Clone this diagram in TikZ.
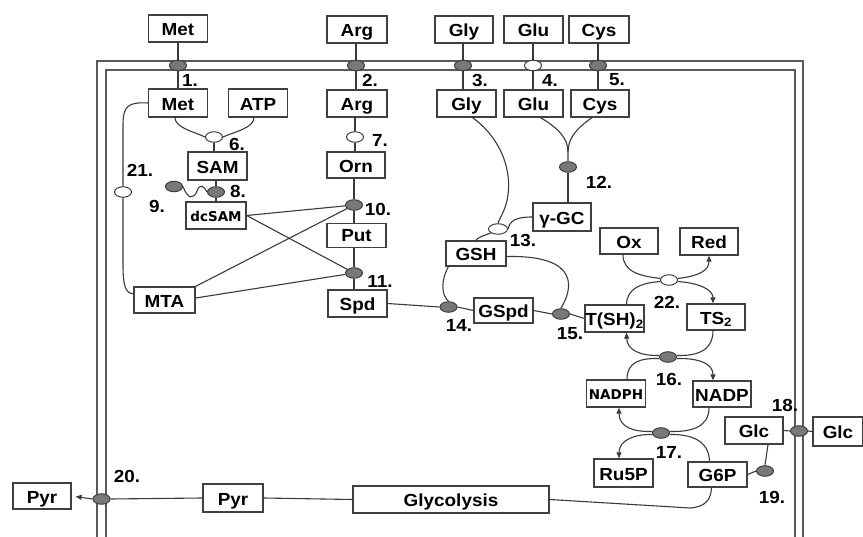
\documentclass[tikz,border=0pt]{standalone}
\usepackage{fontspec}
\setmainfont{Liberation Sans}[FakeStretch=1.08]
\newfontfamily\dvs{DejaVu Sans}
\usetikzlibrary{shapes.geometric,arrows.meta,calc}
\definecolor{ln}{HTML}{3A3A3A}
\definecolor{bx}{HTML}{404040}
\definecolor{mem}{HTML}{5A5A5A}
\definecolor{enzf}{HTML}{787878}
\begin{document}
\begin{tikzpicture}[x=1pt,y=-1pt,
 box/.style={draw=bx,line width=1.3pt,fill=white,inner sep=0pt,minimum height=27pt,minimum width=59pt,font=\bfseries\fontsize{17.5}{17.5}\selectfont,text height=16.5pt,text depth=2pt},
 sbox/.style={box,font=\dvs\bfseries\fontsize{13.5}{13.5}\selectfont,text height=14pt,text depth=1pt},
 enz/.style={ellipse,draw=bx,line width=1pt,fill=enzf,minimum width=17pt,minimum height=10.5pt,inner sep=0pt},
 oenz/.style={enz,fill=white},
 lab/.style={inner sep=0pt,font=\bfseries\fontsize{17.5}{17.5}\selectfont},
 con/.style={draw=ln,line width=1.1pt},
 arr/.style={con,-{Triangle[length=6pt,width=5pt]}},
 membrane/.style={draw=mem,line width=1.6pt}]
\useasboundingbox (0,0) rectangle (863,537);
% membrane
\draw[membrane] (97,545) -- (97,61) -- (803,61) -- (803,545);
\draw[membrane] (106,545) -- (106,70) -- (795,70) -- (795,545);
% outer boxes
\node[box] (metO) at (178,28.5) {Met};
\node[box,minimum width=60pt] (argO) at (357,29.5) {Arg};
\node[box,minimum width=58pt] (glyO) at (464,29.5) {Gly};
\node[box] (gluO) at (533.5,29.5) {Glu};
\node[box,minimum width=60pt] (cysO) at (599,29.5) {Cys};
% transporters
\node[enz] (t1) at (178,65.5) {};
\node[enz] (t2) at (356,65.5) {};
\node[enz] (t3) at (463,65.5) {};
\node[oenz] (t4) at (533,65.5) {};
\node[enz] (t5) at (598,65.5) {};
% inner
\node[box,minimum height=28pt] (met) at (178,103) {Met};
\node[box,minimum height=28pt] (atp) at (258,103) {ATP};
\node[box,minimum width=60pt] (arg) at (357,103.5) {Arg};
\node[box] (gly) at (466.5,103.5) {Gly};
\node[box] (glu) at (533.5,103.5) {Glu};
\node[box,minimum width=58pt] (cys) at (600,103.5) {Cys};
\node[oenz] (e6) at (214,137) {};
\node[box,minimum height=28pt] (sam) at (217.5,166) {SAM};
\node[oenz] (e7) at (355,137) {};
\node[box,minimum width=58pt,minimum height=26pt] (orn) at (356,165) {Orn};
\node[oenz] (e21) at (123,192) {};
\node[enz] (e9) at (174,186.5) {};
\node[enz] (e8) at (216,192) {};
\node[sbox,minimum width=60pt] (dcsam) at (216,215.5) {dcSAM};
\node[enz] (e10) at (354,205) {};
\node[box,minimum height=24pt,text height=15pt] (put) at (356.5,235.5) {Put};
\node[enz] (e11) at (354,273) {};
\node[box] (spd) at (357.5,303.5) {Spd};
\node[box,minimum width=61pt,minimum height=26pt] (mta) at (164.5,300) {MTA};
\node[enz] (e12) at (568,167) {};
\node[box,minimum width=58pt,minimum height=28pt] (gc) at (562,217) {γ-GC};
\node[oenz,minimum width=19pt] (e13) at (498,229) {};
\node[box,minimum width=60pt,minimum height=25pt] (gsh) at (476,253.5) {GSH};
\node[enz] (e14) at (448.5,307) {};
\node[box,minimum height=25pt] (gspd) at (503.5,310.5) {GSpd};
\node[enz] (e15) at (561,314) {};
\node[box] (tsh) at (614.5,318.5) {T(SH)\textsubscript{2}};
\node[box,minimum width=58pt,minimum height=26pt] (ox) at (629,241) {Ox};
\node[box,minimum width=58pt] (red) at (709,241.5) {Red};
\node[oenz] (e22) at (669,280) {};
\node[box,minimum width=58pt,minimum height=26pt] (ts2) at (716,317) {TS\textsubscript{2}};
\node[enz] (e16) at (668,357) {};
\node[sbox] (nadph) at (616,393.5) {NADPH};
\node[box,minimum width=58pt,minimum height=26pt] (nadp) at (722,394) {NADP};
\node[enz] (e17) at (661,433) {};
\node[box,minimum height=28pt] (ru5p) at (623.5,473) {Ru5P};
\node[box,minimum height=25pt] (g6p) at (717.5,474.5) {G6P};
\node[box,minimum width=58pt] (glci) at (754,430.5) {Glc};
\node[enz] (t18) at (799,431) {};
\node[box,minimum width=50pt,minimum height=29pt] (glco) at (838,431.5) {Glc};
\node[enz] (e19) at (765,471) {};
\node[box,minimum width=196pt] (glyc) at (451,499.5) {Glycolysis};
\node[box,minimum width=60pt,minimum height=28pt] (pyri) at (233,498) {Pyr};
\node[enz] (t20) at (101.5,499) {};
\node[box,minimum width=58pt,minimum height=26pt] (pyro) at (42,496) {Pyr};
% labels
\node[lab] (l1) at (190,80) {1.};
\node[lab] (l2) at (370,80) {2.};
\node[lab] (l3) at (480,80) {3.};
\node[lab] (l4) at (550,80) {4.};
\node[lab] (l5) at (617,80) {5.};
\node[lab] (l6) at (237,144) {6.};
\node[lab] (l7) at (380,140) {7.};
\node[lab] (l8) at (238,191) {8.};
\node[lab] (l9) at (157,206) {9.};
\node[lab] (l10) at (378,209) {10.};
\node[lab] (l11) at (380,281) {11.};
\node[lab] (l12) at (599,182) {12.};
\node[lab] (l13) at (523,240) {13.};
\node[lab] (l14) at (459,325) {14.};
\node[lab] (l15) at (570,334) {15.};
\node[lab] (l16) at (669,379) {16.};
\node[lab] (l17) at (669,452) {17.};
\node[lab] (l18) at (785,405) {18.};
\node[lab] (l19) at (772,497) {19.};
\node[lab] (l20) at (127,476) {20.};
\node[lab] (l21) at (140,170) {21.};
\node[lab] (l22) at (667,302) {22.};
% transport connectors
\foreach \t/\o/\i in {t1/metO/met,t2/argO/arg,t3/glyO/gly,t4/gluO/glu,t5/cysO/cys}{
  \draw[con] (\t.north) -- (\t.north |- \o.south);
  \draw[con] (\t.south) -- (\t.south |- \i.north);
}
% Met + ATP -> SAM
\draw[con] ($(met.south)+(-3,0)$) .. controls (175,128) and (195,132) .. (e6.west);
\draw[con] ($(atp.south)+(-4,0)$) .. controls (254,128) and (234,132) .. (e6.east);
\draw[con] (e6.south) -- (e6.south |- sam.north);
\draw[con] (sam.south -| e8) -- (e8.north);
\draw[con] (e8.south) -- (e8.south |- dcsam.north);
\draw[con] (e9.east) .. controls (188,200) and (194,199) .. (197,191) .. controls (200,183) and (204,186) .. (e8.west);
% Arg -> Orn -> Put -> Spd
\draw[con] (arg.south -| e7) -- (e7.north);
\draw[con] (e7.south) -- (e7.south |- orn.north);
\draw[con] (orn.south -| e10) -- (e10.north);
\draw[con] (e10.south) -- (e10.south |- put.north);
\draw[con] (put.south -| e11) -- (e11.north);
\draw[con] (e11.south) -- (e11.south |- spd.north);
\draw[con] (dcsam.east) -- (e10);
\draw[con] (dcsam.east) -- (e11);
\draw[con] (mta.north east) -- (e10);
\draw[con] ($(mta.east)+(0,-2)$) -- (e11);
% 21
\draw[con] (met.west) .. controls (128,102) and (123,106) .. (123,125) -- (e21.north);
\draw[con] (e21.south) -- (123,265) .. controls (123,290) and (127,293) .. ($(mta.west)+(0,-6)$);
% glutathione
\draw[con] ($(glu.south)+(7,0)$) .. controls (558,128) and (568,138) .. (568,152) -- (e12.north);
\draw[con] ($(cys.south)+(-8,0)$) .. controls (577,128) and (568,138) .. (568,152);
\draw[con] (e12.south) -- (e12.south |- gc.north);
\draw[con] ($(gly.south)+(6,0)$) .. controls (497,135) and (512,165) .. (508,195) .. controls (506,210) and (500,217) .. (e13.north);
\draw[con] (gc.west) .. controls (515,217) and (510,221) .. (e13.east);
\draw[con] (e13.south west) .. controls (482,236) and (477,238) .. (gsh.north);
\draw[con] ($(gsh.south west)+(3,0)$) .. controls (441,280) and (441,295) .. (e14.north);
\draw[con] ($(gsh.east)+(0,3)$) .. controls (582,255) and (572,290) .. (e15.north);
\draw[con] (spd.east) -- (e14.west);
\draw[con] (e14.east) -- (gspd.west);
\draw[con] (gspd.east) -- (e15.west);
\draw[con] (e15.east) -- (tsh.west);
% 22
\draw[con] ($(ox.south)+(-6,0)$) .. controls (623,272) and (640,276) .. (e22.170);
\draw[arr] (e22.10) .. controls (700,276) and (709,270) .. (red.south);
\draw[con] ($(tsh.north)+(12,0)$) .. controls (627,289) and (640,283) .. (e22.190);
\draw[arr] (e22.350) .. controls (700,283) and (713,290) .. ($(ts2.north)+(-3,0)$);
% 16
\draw[con] ($(ts2.south)+(-3,0)$) .. controls (713,352) and (695,356) .. (e16.10);
\draw[arr] (e16.170) .. controls (640,356) and (627,350) .. ($(tsh.south)+(12,0)$);
\draw[con] ($(nadph.north)+(11,0)$) .. controls (627,362) and (640,358) .. (e16.190);
\draw[arr] (e16.350) .. controls (700,358) and (713,364) .. ($(nadp.north)+(-9,0)$);
% 17
\draw[con] ($(nadp.south)+(-13,0)$) .. controls (709,428) and (690,432) .. (e17.10);
\draw[arr] (e17.170) .. controls (635,432) and (619,428) .. ($(nadph.south)+(3,0)$);
\draw[con] ($(g6p.north)+(-8,0)$) .. controls (709,440) and (690,434) .. (e17.350);
\draw[arr] (e17.190) .. controls (635,434) and (619,440) .. ($(ru5p.north)+(-4.5,0)$);
% glucose
\draw[con] (glci.east) -- (t18.west);
\draw[con] (t18.east) -- (glco.west);
\draw[con] ($(glci.south)+(14,0)$) -- (e19.north);
\draw[con] (g6p.east) -- (e19.west);
\draw[con] (glyc.east) -- (690,508) .. controls (705,507) and (711,500) .. ($(g6p.south)+(-6,0)$);
% pyruvate
\draw[con] (glyc.west) -- (pyri.east);
\draw[con] (pyri.west) -- (t20.east);
\draw[arr,shorten >=4pt] (t20.west) -- (pyro.east);
\end{tikzpicture}
\end{document}
